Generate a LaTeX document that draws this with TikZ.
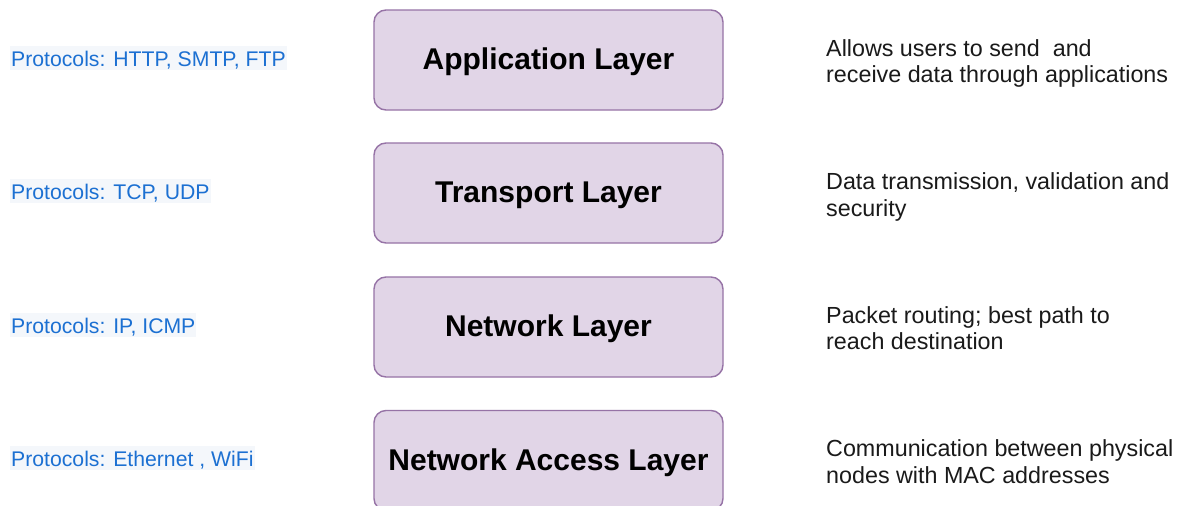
\documentclass[tikz,border=0pt]{standalone}
\usepackage{fontspec}
\setmainfont{Liberation Sans}
\definecolor{boxfill}{HTML}{E1D5E7}
\definecolor{boxdraw}{HTML}{9673A6}
\definecolor{protoblue}{HTML}{1C70D2}
\definecolor{protobg}{HTML}{F4F7FB}
\definecolor{desctext}{HTML}{1A1A1A}
\begin{document}
\begin{tikzpicture}[x=1pt,y=-1pt,
  layerbox/.style={draw=boxdraw,fill=boxfill,line width=1.4pt,rounded corners=12pt,
    minimum width=349pt,minimum height=100pt,inner sep=0pt,
    text height=22pt,text depth=3pt,
    font=\fontsize{30}{34}\selectfont\bfseries,text=black},
  proto/.style={anchor=base west,fill=protobg,text=protoblue,inner xsep=1pt,inner ysep=1pt,
    text height=19.3pt,text depth=2.7pt,font=\fontsize{21.2}{26}\selectfont},
  desc/.style={anchor=base west,align=left,text=desctext,inner sep=0pt,
    font=\fontsize{23.3}{26.7}\selectfont}]
\useasboundingbox (0,0) rectangle (1178,506);
\clip (0,0) rectangle (1178,506);
\fill[white] (0,0) rectangle (1178,506);
% layer boxes
\node[layerbox] (app) at (548.5,60) {Application Layer};
\node[layerbox] (trans) at (548.5,193) {Transport Layer};
\node[layerbox] (net) at (548.5,327) {Network Layer};
\node[layerbox] (acc) at (548.5,460.5) {Network Access Layer};
% protocols
\node[proto] (p1) at (10,66.5) {Protocols: HTTP, SMTP, FTP};
\node[proto] (p2) at (10,199.3) {Protocols: TCP, UDP};
\node[proto] (p3) at (10,333) {Protocols: IP, ICMP};
\node[proto] (p4) at (10,466.7) {Protocols: Ethernet , WiFi};
% descriptions (base anchor = last line baseline)
\node[desc] (d1) at (826,82.7) {Allows users to send\ \ and\\receive data through applications};
\node[desc] (d2) at (826,216.2) {Data transmission, validation and\\security};
\node[desc] (d3) at (826,349.7) {Packet routing; best path to\\reach destination};
\node[desc] (d4) at (826,483.4) {Communication between physical\\nodes with MAC addresses};
\end{tikzpicture}
\end{document}
